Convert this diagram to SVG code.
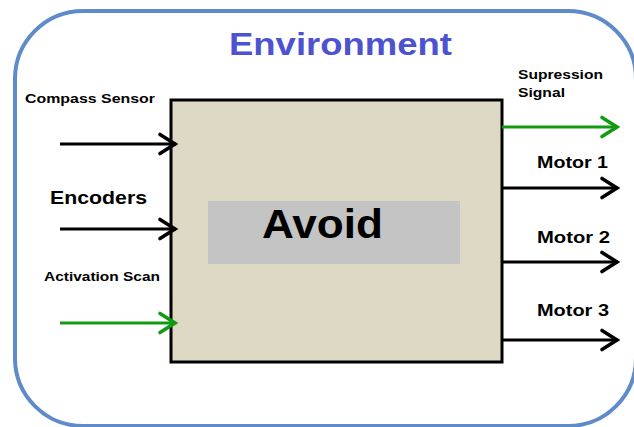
<svg xmlns="http://www.w3.org/2000/svg" width="634" height="427" viewBox="0 0 634 427">
<defs>
<marker id="ah" markerWidth="22" markerHeight="24" refX="19" refY="12" orient="auto" markerUnits="userSpaceOnUse">
<path d="M3,2.5 L18,12 L3,21.5" fill="none" stroke="#000" stroke-width="3.6" stroke-linecap="round"/>
</marker>
<marker id="ahg" markerWidth="22" markerHeight="24" refX="19" refY="12" orient="auto" markerUnits="userSpaceOnUse">
<path d="M3,2.5 L18,12 L3,21.5" fill="none" stroke="#139a13" stroke-width="3.6" stroke-linecap="round"/>
</marker>
</defs>
<style>
text{font-family:"Liberation Sans",Arial,sans-serif;font-weight:bold;fill:#000}
.blk{stroke:#000;stroke-width:3.2;fill:none;marker-end:url(#ah)}
.grn{stroke:#139a13;stroke-width:3.2;fill:none;marker-end:url(#ahg)}
</style>
<g id="environment">
<rect x="15" y="11" width="621" height="415" rx="68" ry="68" fill="#fff" stroke="#5f8bc8" stroke-width="4"/>
<text x="229" y="55" font-size="30.5" textLength="223" lengthAdjust="spacingAndGlyphs" style="fill:#4d52d0">Environment</text>
</g>
<g id="avoid">
<rect x="171" y="100" width="331" height="262" fill="#ded9c5" stroke="#000" stroke-width="3"/>
<rect x="208" y="201" width="252" height="63" fill="#c4c4c4"/>
<text x="262" y="238" font-size="40" textLength="121" lengthAdjust="spacingAndGlyphs">Avoid</text>
</g>
<g id="connectors">
<line class="blk" x1="60" y1="144" x2="176" y2="144"/>
<line class="blk" x1="60" y1="229" x2="176" y2="229"/>
<line class="grn" x1="60" y1="323" x2="176" y2="323"/>
<line class="grn" x1="502" y1="127" x2="618" y2="127"/>
<line class="blk" x1="502" y1="188" x2="618" y2="188"/>
<line class="blk" x1="502" y1="262" x2="618" y2="262"/>
<line class="blk" x1="502" y1="340" x2="618" y2="340"/>
</g>
<g id="labels">
<text x="25" y="103" font-size="13.5" textLength="130" lengthAdjust="spacingAndGlyphs">Compass Sensor</text>
<text x="50" y="204" font-size="18" textLength="97" lengthAdjust="spacingAndGlyphs">Encoders</text>
<text x="44" y="281" font-size="13.5" textLength="116" lengthAdjust="spacingAndGlyphs">Activation Scan</text>
<text x="518" y="79" font-size="13" textLength="85" lengthAdjust="spacingAndGlyphs">Supression</text>
<text x="518" y="97" font-size="13" textLength="47" lengthAdjust="spacingAndGlyphs">Signal</text>
<text x="537" y="168" font-size="17" textLength="71" lengthAdjust="spacingAndGlyphs">Motor 1</text>
<text x="537" y="243" font-size="17" textLength="73" lengthAdjust="spacingAndGlyphs">Motor 2</text>
<text x="537" y="316" font-size="17" textLength="72" lengthAdjust="spacingAndGlyphs">Motor 3</text>
</g>
</svg>
